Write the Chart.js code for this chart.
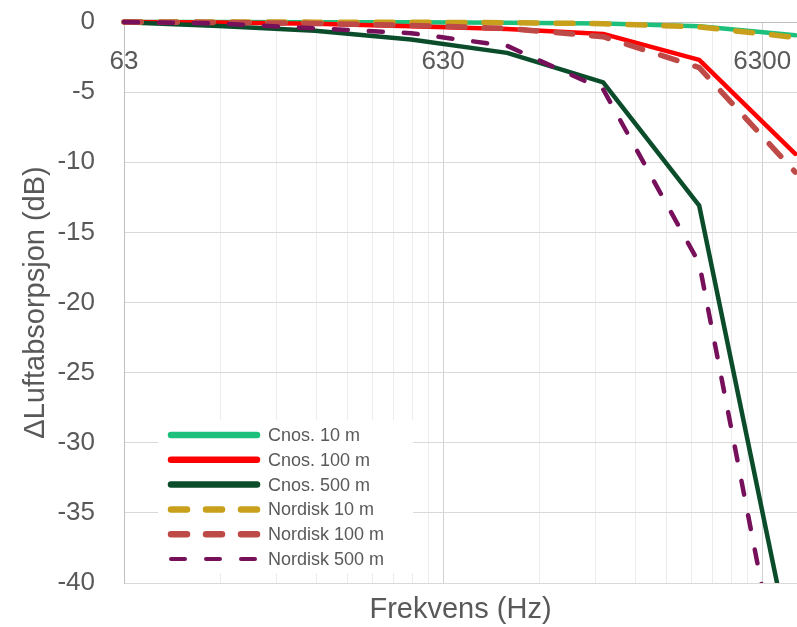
<!DOCTYPE html>
<html>
<head>
<meta charset="utf-8">
<script src="https://cdn.jsdelivr.net/npm/chart.js@4.4.1/dist/chart.umd.min.js"></script>
<style>
  html, body { margin: 0; padding: 0; background: #ffffff; overflow: hidden; }
  #wrap { width: 797px; height: 627px; }
</style>
</head>
<body>
<div id="wrap"><canvas id="c" width="797" height="627"></canvas></div>
<script>
// ---- data ----
const freqs      = [63, 125, 250, 500, 1000, 2000, 4000, 8000];
const cnos10     = [0, 0, -0.01, -0.02, -0.05, -0.1, -0.3, -0.95];
const cnos100    = [0, -0.03, -0.12, -0.3, -0.5, -0.85, -2.7, -9.4];
const cnos500    = [-0.02, -0.28, -0.62, -1.25, -2.2, -4.3, -13.1, -46.3];
const nordisk10  = [0, 0, -0.01, -0.02, -0.05, -0.12, -0.35, -1.1];
const nordisk100 = [0, -0.03, -0.1, -0.25, -0.45, -1.05, -3.25, -10.7];
const nordisk500 = [0, -0.1, -0.45, -0.8, -1.7, -4.8, -17.2, -52.5];
const seriesNames = ['Cnos. 10 m', 'Cnos. 100 m', 'Cnos. 500 m', 'Nordisk 10 m', 'Nordisk 100 m', 'Nordisk 500 m'];
const xTickLabels = [63, 630, 6300];
const yMin = -40, yMax = 0, yStep = 5;
const xMin = 63, xMax = 8100;

const FONT = "'Liberation Sans', Arial, sans-serif";
const TXT = '#595959';
const CLEAR = 'rgba(0,0,0,0)';

const styles = [
  { color: '#1cc07c', width: 4.5, dash: [] },
  { color: '#ff0000', width: 4.5, dash: [] },
  { color: '#0b4d2b', width: 4.5, dash: [] },
  { color: '#c9a01c', width: 5.5, dash: [17, 19] },
  { color: '#be4a47', width: 5.5, dash: [17, 19] },
  { color: '#77105b', width: 4.5, dash: [14, 21] }
];
const legendStyles = [
  { width: 6.5, dash: [] }, { width: 6.5, dash: [] }, { width: 6.5, dash: [] },
  { width: 6.5, dash: [16, 19] }, { width: 6.5, dash: [16, 19] }, { width: 4, dash: [14, 21] }
];
const allSeries = [cnos10, cnos100, cnos500, nordisk10, nordisk100, nordisk500];

const datasets = allSeries.map((vals, i) => ({
  label: seriesNames[i],
  data: freqs.map((f, j) => ({ x: f, y: vals[j] })),
  borderColor: styles[i].color,
  backgroundColor: styles[i].color,
  borderWidth: styles[i].width,
  borderDash: styles[i].dash,
  borderCapStyle: 'round',
  borderJoinStyle: 'round',
  pointRadius: 0,
  pointHoverRadius: 0,
  tension: 0,
  fill: false,
  order: 6 - i,
  xAxisID: 'x',
  yAxisID: 'y',
  clip: { left: 5, top: 10, right: 0, bottom: 0 }
}));

// log grid positions (major at 63*10^n, minor at 63*k*10^n)
function logGridValues() {
  const out = [];
  for (let n = 0; n < 3; n++) {
    for (let k = 1; k <= 9; k++) {
      const v = Math.round(63 * k * Math.pow(10, n));
      if (v >= xMin && v <= xMax) out.push(v);
    }
  }
  return out;
}

const insideLegend = {
  id: 'insideLegend',
  afterDraw(chart) {
    const ctx = chart.ctx;
    ctx.save();
    ctx.fillStyle = '#ffffff';
    ctx.fillRect(158, 420, 255, 153);
    const x0 = 171, x1 = 257, tx = 268, y0 = 435, dy = 24.8;
    chart.data.datasets.forEach((ds, i) => {
      const y = y0 + i * dy;
      ctx.beginPath();
      ctx.strokeStyle = ds.borderColor;
      ctx.lineWidth = legendStyles[i].width;
      ctx.lineCap = 'round';
      ctx.setLineDash(legendStyles[i].dash);
      ctx.moveTo(x0, y);
      ctx.lineTo(x1, y);
      ctx.stroke();
      ctx.setLineDash([]);
      ctx.fillStyle = TXT;
      ctx.font = "18px " + FONT;
      ctx.textAlign = 'left';
      ctx.textBaseline = 'middle';
      ctx.fillText(ds.label, tx, y + 1);
    });
    ctx.restore();
  }
};

new Chart(document.getElementById('c'), {
  type: 'line',
  data: { datasets },
  plugins: [insideLegend],
  options: {
    responsive: false,
    devicePixelRatio: 1,
    animation: false,
    events: [],
    layout: { padding: { top: 22, left: 0, right: 0, bottom: 0 } },
    plugins: { legend: { display: false }, tooltip: { enabled: false } },
    scales: {
      x: {
        type: 'logarithmic',
        position: { y: 0 },
        min: xMin,
        max: xMax,
        afterBuildTicks: (scale) => { scale.ticks = logGridValues().map(v => ({ value: v })); },
        ticks: {
          autoSkip: false,
          maxRotation: 0,
          padding: 0,
          color: TXT,
          font: { family: FONT, size: 26 },
          callback: (v) => xTickLabels.includes(Math.round(v)) ? String(Math.round(v)) : ''
        },
        grid: {
          drawTicks: true,
          tickLength: 24,
          tickColor: CLEAR,
          color: (c) => (c.tick && xTickLabels.includes(Math.round(c.tick.value))) ? '#d2d2d2' : '#ececec',
          lineWidth: 1
        },
        border: { display: true, color: '#bfbfbf' }
      },
      xt: {
        type: 'linear',
        axis: 'x',
        position: 'bottom',
        min: 0, max: 1,
        ticks: { display: false },
        grid: { display: false, drawTicks: false },
        border: { display: false },
        title: {
          display: true,
          text: 'Frekvens (Hz)',
          color: TXT,
          font: { family: FONT, size: 29 },
          padding: { top: 0, bottom: 0 }
        },
        afterFit: (s) => { s.height = 44; }
      },
      y: {
        type: 'linear',
        position: 'left',
        min: yMin,
        max: yMax,
        ticks: {
          stepSize: yStep,
          padding: 0,
          color: TXT,
          font: { family: FONT, size: 26 }
        },
        grid: { drawTicks: true, tickLength: 29, tickColor: CLEAR, color: '#d9d9d9', lineWidth: 1 },
        border: { display: true, color: '#bfbfbf' },
        title: {
          display: true,
          text: 'ΔLuftabsorpsjon (dB)',
          color: TXT,
          font: { family: FONT, size: 29 },
          padding: { top: 19, bottom: 0 }
        },
        afterFit: (s) => { s.width = 124; }
      }
    }
  }
});
</script>
</body>
</html>
